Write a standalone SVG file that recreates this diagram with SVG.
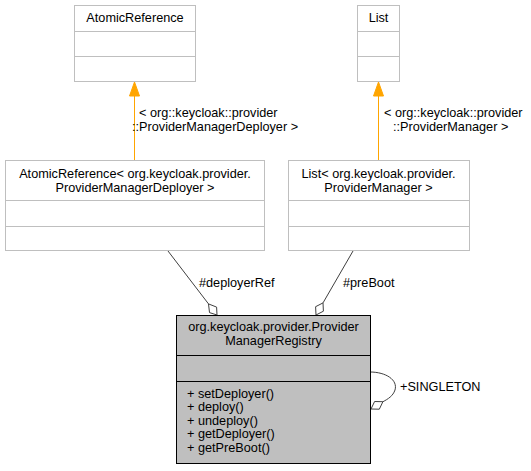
<svg xmlns="http://www.w3.org/2000/svg" width="531" height="471" viewBox="0 0 531 471">
<style>
text{font-family:"Liberation Sans",Arial,sans-serif;font-size:12.7px;fill:#000}
.c{text-anchor:middle}
.box{fill:#fff;stroke:#bfbfbf;stroke-width:1}
.main{fill:#bfbfbf;stroke:#000;stroke-width:1}
.tmpl{stroke:#ffa500;stroke-width:1;fill:none}
.use{stroke:#404040;stroke-width:1;fill:none}
.dia{fill:#fff;stroke:#404040;stroke-width:1}
</style>
<rect width="531" height="471" fill="#fff"/>
<g id="connectors">
  <line class="tmpl" x1="134.5" y1="95" x2="134.5" y2="160"/>
  <polygon points="134.5,82 129.5,96 139.5,96" fill="#ffa500" stroke="#ffa500"/>
  <line class="tmpl" x1="378.5" y1="95" x2="378.5" y2="160"/>
  <polygon points="378.5,82 373.5,96 383.5,96" fill="#ffa500" stroke="#ffa500"/>
  <line class="use" x1="168" y1="251" x2="208.5" y2="303.9"/>
  <polygon class="dia" points="217,315 216.6,307.1 208.5,303.9 209.5,312.6"/>
  <line class="use" x1="353" y1="251" x2="323" y2="302.9"/>
  <polygon class="dia" points="316,315 315.6,306.7 323,302.9 323.4,311.2"/>
  <path class="use" d="M370,372 C386,372 398,380 395,390 C393,396 388,399 383,401.7"/>
  <polygon class="dia" points="371,409 374.6,401.5 382.9,401.7 379.3,409.2"/>
  <text x="139" y="117">&lt; org::keycloak::provider</text>
  <text x="132" y="131">::ProviderManagerDeployer &gt;</text>
  <text x="384" y="117">&lt; org::keycloak::provider</text>
  <text x="393" y="131">::ProviderManager &gt;</text>
  <text x="199" y="287">#deployerRef</text>
  <text x="343" y="287">#preBoot</text>
  <text x="400" y="391">+SINGLETON</text>
</g>
<g id="AtomicReference">
  <rect class="box" x="74.5" y="5.5" width="121" height="76"/>
  <line class="box" x1="74.5" y1="31.5" x2="195.5" y2="31.5"/>
  <line class="box" x1="74.5" y1="56.5" x2="195.5" y2="56.5"/>
  <text class="c" x="135" y="22">AtomicReference</text>
</g>
<g id="List">
  <rect class="box" x="357.5" y="5.5" width="42" height="76"/>
  <line class="box" x1="357.5" y1="31.5" x2="399.5" y2="31.5"/>
  <line class="box" x1="357.5" y1="56.5" x2="399.5" y2="56.5"/>
  <text class="c" x="378.5" y="22">List</text>
</g>
<g id="AtomicReferenceDeployer">
  <rect class="box" x="5.5" y="160.5" width="259" height="90"/>
  <line class="box" x1="5.5" y1="200.5" x2="264.5" y2="200.5"/>
  <line class="box" x1="5.5" y1="226.5" x2="264.5" y2="226.5"/>
  <text class="c" x="135" y="178">AtomicReference&lt; org.keycloak.provider.</text>
  <text class="c" x="135" y="192">ProviderManagerDeployer &gt;</text>
</g>
<g id="ListProviderManager">
  <rect class="box" x="288.5" y="160.5" width="181" height="90"/>
  <line class="box" x1="288.5" y1="200.5" x2="469.5" y2="200.5"/>
  <line class="box" x1="288.5" y1="226.5" x2="469.5" y2="226.5"/>
  <text class="c" x="378.5" y="178">List&lt; org.keycloak.provider.</text>
  <text class="c" x="378.5" y="192">ProviderManager &gt;</text>
</g>
<g id="ProviderManagerRegistry">
  <rect class="main" x="176.5" y="315.5" width="194" height="148"/>
  <line class="main" x1="176.5" y1="355.5" x2="370.5" y2="355.5"/>
  <line class="main" x1="176.5" y1="381.5" x2="370.5" y2="381.5"/>
  <text class="c" x="273.5" y="331">org.keycloak.provider.Provider</text>
  <text class="c" x="273.5" y="345">ManagerRegistry</text>
  <text x="187" y="397.5">+ setDeployer()</text>
  <text x="187" y="411">+ deploy()</text>
  <text x="187" y="424.5">+ undeploy()</text>
  <text x="187" y="438">+ getDeployer()</text>
  <text x="187" y="451.5">+ getPreBoot()</text>
</g>
</svg>
